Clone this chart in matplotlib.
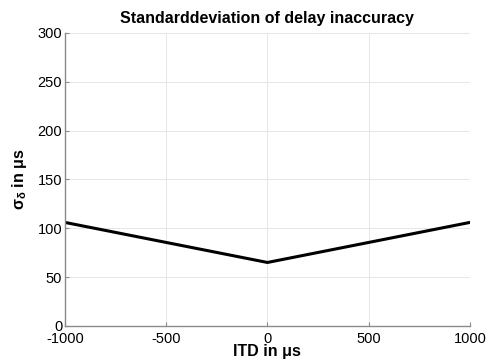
import matplotlib.pyplot as plt
import numpy as np

plt.rcParams['font.family'] = ['Liberation Sans', 'DejaVu Sans']
plt.rcParams['axes.unicode_minus'] = False
plt.rcParams['mathtext.fontset'] = 'custom'
plt.rcParams['mathtext.rm'] = 'Liberation Sans'
plt.rcParams['mathtext.bf'] = 'Liberation Sans:bold'
plt.rcParams['mathtext.it'] = 'Liberation Sans:italic'

itd = [-1000, 0, 1000]
sigma = [106, 65, 106]
xticks = [-1000, -500, 0, 500, 1000]
yticks = [0, 50, 100, 150, 200, 250, 300]

fig = plt.figure(figsize=(4.88, 3.61), dpi=100)
ax = fig.add_axes([0.133, 0.097, 0.83, 0.812])

ax.plot(itd, sigma, color='black', linewidth=2.2)
ax.set_xlim(-1000, 1000)
ax.set_ylim(0, 300)
ax.set_xticks(xticks)
ax.set_yticks(yticks)
ax.grid(True, color='#e6e6e6', linestyle='-', linewidth=0.7)
ax.set_axisbelow(True)

for s in ['top', 'right']:
    ax.spines[s].set_visible(False)
for s in ['left', 'bottom']:
    ax.spines[s].set_color('#8a8a8a')
    ax.spines[s].set_linewidth(1.0)
ax.tick_params(direction='in', length=3, color='#8a8a8a', labelsize=10.5)
ax.tick_params(axis='x', pad=4)
ax.tick_params(axis='y', pad=2)

ax.set_title('Standarddeviation of delay inaccuracy', fontsize=11.5, fontweight='bold', pad=7)
ax.set_xlabel('ITD in μs', fontsize=11.5, fontweight='bold', labelpad=-1)
ax.set_ylabel(r'$\mathbf{\sigma_{\delta}}$ in μs', fontsize=11.5, fontweight='bold', labelpad=6)

fig.savefig('out.png', dpi=100)
